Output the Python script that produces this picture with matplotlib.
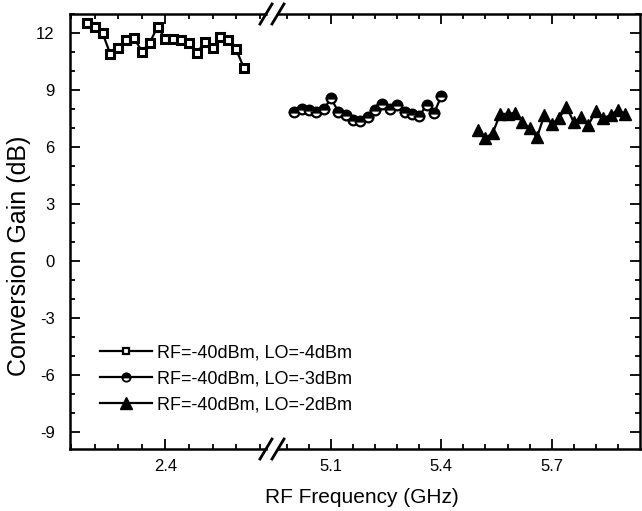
import numpy as np
import matplotlib
matplotlib.use("Agg")
import matplotlib.pyplot as plt
from matplotlib.ticker import FixedLocator
from matplotlib.lines import Line2D

plt.rcParams['font.family'] = ['Liberation Sans', 'DejaVu Sans']
plt.rcParams['axes.unicode_minus'] = False

# datos
freq_24 = [2.20, 2.22, 2.24, 2.26, 2.28, 2.30, 2.32, 2.34, 2.36, 2.38, 2.40,
           2.42, 2.44, 2.46, 2.48, 2.50, 2.52, 2.54, 2.56, 2.58, 2.60]
gain_lo4 = [12.54, 12.33, 11.98, 10.88, 11.23, 11.63, 11.75, 11.02, 11.49, 12.33, 11.67,
            11.68, 11.63, 11.46, 10.93, 11.54, 11.19, 11.80, 11.63, 11.14, 10.14]

freq_52 = [5.00, 5.02, 5.04, 5.06, 5.08, 5.10, 5.12, 5.14, 5.16, 5.18, 5.20,
           5.22, 5.24, 5.26, 5.28, 5.30, 5.32, 5.34, 5.36, 5.38, 5.40]
gain_lo3 = [7.86, 7.98, 7.95, 7.82, 7.98, 8.56, 7.86, 7.68, 7.42, 7.39, 7.60,
            7.95, 8.26, 7.98, 8.21, 7.82, 7.72, 7.63, 8.21, 7.77, 8.68]

freq_57 = [5.50, 5.52, 5.54, 5.56, 5.58, 5.60, 5.62, 5.64, 5.66, 5.68, 5.70,
           5.72, 5.74, 5.76, 5.78, 5.80, 5.82, 5.84, 5.86, 5.88, 5.90]
gain_lo2 = [6.89, 6.46, 6.75, 7.74, 7.74, 7.80, 7.33, 6.98, 6.51, 7.68, 7.21,
            7.51, 8.12, 7.30, 7.56, 7.16, 7.91, 7.51, 7.68, 7.95, 7.72]

labels = ['RF=-40dBm, LO=-4dBm', 'RF=-40dBm, LO=-3dBm', 'RF=-40dBm, LO=-2dBm']
yticks = [-9, -6, -3, 0, 3, 6, 9, 12]

W, H = 642, 511
fig = plt.figure(figsize=(W / 100, H / 100), dpi=100)

x0, xb1, xb2, x1 = 70, 266, 278, 640
ytop, ybot = 14, 449
ax1 = fig.add_axes([x0 / W, 1 - ybot / H, (xb1 - x0) / W, (ybot - ytop) / H])
ax2 = fig.add_axes([xb2 / W, 1 - ybot / H, (x1 - xb2) / W, (ybot - ytop) / H])

ax1.set_xlim(2.157, 2.656)
ax2.set_xlim(4.956, 5.940)
for ax in (ax1, ax2):
    ax.set_ylim(-9.9, 13.0)
    ax.yaxis.set_major_locator(FixedLocator(yticks))
    ax.yaxis.set_minor_locator(FixedLocator(np.arange(-9, 13.5, 1.0)))
    for s in ax.spines.values():
        s.set_linewidth(1.8)
    ax.tick_params(which='both', direction='in', top=True, width=1.3, labelsize=12)
    ax.tick_params(which='major', length=7, pad=7)
    ax.tick_params(which='minor', length=3.5)

ax1.xaxis.set_major_locator(FixedLocator([2.4]))
ax1.xaxis.set_minor_locator(FixedLocator(np.arange(2.16, 2.65, 0.06)))
ax2.xaxis.set_major_locator(FixedLocator([5.1, 5.4, 5.7]))
ax2.xaxis.set_minor_locator(FixedLocator(np.arange(4.98, 5.93, 0.06)))

ax1.spines['right'].set_visible(False)
ax2.spines['left'].set_visible(False)
ax1.tick_params(which='both', right=False)
ax1.tick_params(axis='y', which='major', pad=11)
ax2.tick_params(which='both', left=False, right=True, labelleft=False)

ax1.plot(freq_24, gain_lo4, color='black', lw=1.6, marker='s', ms=5.5,
         mfc='white', mec='black', mew=2.2)
ax2.plot(freq_52, gain_lo3, color='black', lw=1.6, marker='o', ms=7,
         fillstyle='top', mfc='black', markerfacecoloralt='white', mec='black', mew=1.6)
ax2.plot(freq_57, gain_lo2, color='black', lw=1.6, marker='^', ms=9,
         mfc='black', mec='black')

# marcas de corte //
for xb in (xb1, xb2):
    for yb in (ytop, ybot):
        fig.add_artist(Line2D([(xb - 6) / W, (xb + 6) / W], [1 - (yb + 10) / H, 1 - (yb - 10) / H],
                              color='black', lw=2))

fig.text(19 / W, 1 - 256 / H, 'Conversion Gain (dB)', rotation=90, fontsize=18,
         ha='center', va='center')
fig.text(362 / W, 1 - 497 / H, 'RF Frequency (GHz)', fontsize=15, ha='center', va='center')

handles = [
    Line2D([], [], color='black', lw=1.6, marker='s', ms=4.5, mfc='white', mec='black', mew=1.6),
    Line2D([], [], color='black', lw=1.6, marker='o', ms=6, fillstyle='top', mfc='black',
           markerfacecoloralt='white', mec='black', mew=1.3),
    Line2D([], [], color='black', lw=1.6, marker='^', ms=8, mfc='black', mec='black'),
]
fig.legend(handles, labels, loc='upper left', bbox_to_anchor=(100 / W, 1 - 344 / H),
           frameon=False, fontsize=13, handlelength=2.9, handletextpad=0.25,
           labelspacing=0.5, borderpad=0, borderaxespad=0)

fig.savefig('out.png', dpi=100)
